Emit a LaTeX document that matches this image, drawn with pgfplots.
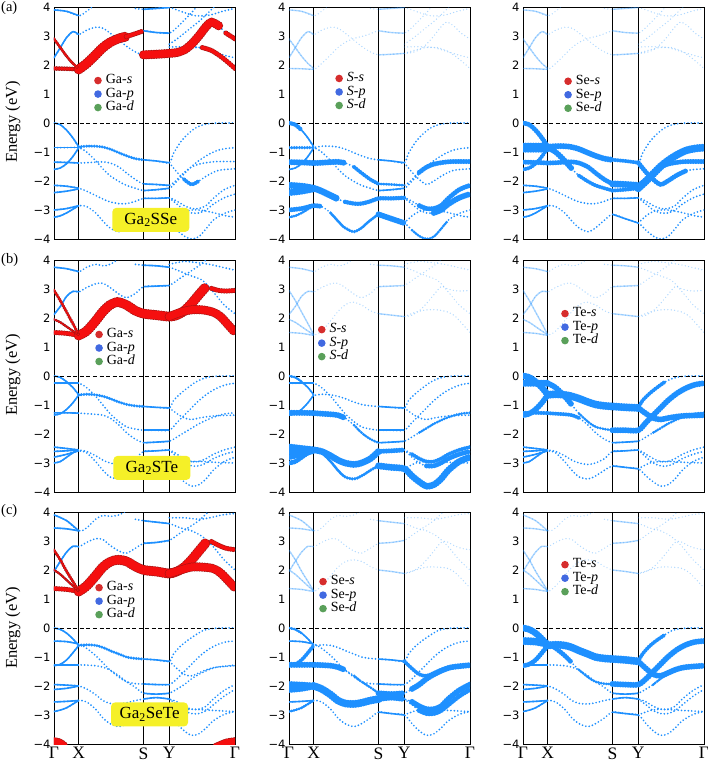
\documentclass[border=0pt]{standalone}
\usepackage{fontspec}
\setmainfont{Liberation Serif}
\setsansfont{DejaVu Sans}
\usepackage{pgfplots}
\usepackage{pgfplotstable}
\pgfplotsset{compat=1.18}
\definecolor{bb}{RGB}{30,144,255}
\definecolor{rr}{RGB}{245,15,15}
\definecolor{rdk}{RGB}{165,20,20}
\definecolor{lr}{RGB}{214,45,45}
\definecolor{lb}{RGB}{65,105,225}
\definecolor{lg}{RGB}{90,160,90}
\definecolor{yl}{RGB}{245,240,40}

% ---------------- Row A : Ga2SSe ----------------
\pgfplotstableread{
x y
0 0
0.035 -0.06
0.07 -0.25
0.105 -0.52
0.137 -0.82
0.18 -0.8
0.23 -0.8
0.27 -0.83
0.31 -0.9
0.36 -1.03
0.40 -1.13
0.45 -1.23
0.495 -1.27
0.565 -1.31
0.637 -1.37
0.66 -1.05
0.70 -0.65
0.74 -0.38
0.78 -0.18
0.82 -0.07
0.86 -0.02
0.92 0
1 0
}\aVA
\pgfplotstableread{
x y
0 -0.85
0.07 -0.85
0.137 -0.85
0.18 -1.0
0.23 -1.3
0.27 -1.58
0.31 -1.82
0.36 -2.02
0.40 -2.15
0.45 -2.25
0.495 -2.33
0.565 -2.3
0.637 -2.25
0.68 -2.0
0.72 -1.75
0.76 -1.5
0.80 -1.3
0.85 -1.1
0.90 -0.95
0.95 -0.88
1 -0.85
}\aVB
\pgfplotstableread{
x y
0 -1.6
0.035 -1.55
0.07 -1.4
0.105 -1.15
0.137 -0.85
}\aVC
\pgfplotstableread{
x y
0.637 -1.37
0.68 -1.7
0.72 -1.95
0.76 -2.12
0.80 -2.0
0.85 -1.8
0.90 -1.65
0.95 -1.6
1 -1.58
}\aVCr
\pgfplotstableread{
x y
0 -1.35
0.07 -1.36
0.137 -1.38
0.18 -1.37
0.23 -1.35
0.27 -1.34
0.31 -1.38
0.36 -1.52
0.40 -1.72
0.45 -1.95
0.495 -2.1
0.565 -2.12
0.637 -2.15
0.68 -1.95
0.72 -1.7
0.76 -1.52
0.80 -1.42
0.85 -1.36
0.90 -1.33
1 -1.33
}\aVD
\pgfplotstableread{
x y
0 -2.15
0.07 -2.18
0.137 -2.25
0.18 -2.35
0.23 -2.5
0.27 -2.62
0.31 -2.72
0.36 -2.78
0.40 -2.78
0.45 -2.7
0.495 -2.6
0.565 -2.6
0.637 -2.58
0.68 -2.7
0.72 -2.85
0.76 -2.95
0.80 -2.95
0.84 -2.85
0.88 -2.6
0.94 -2.3
1 -2.15
}\aVE
\pgfplotstableread{
x y
0 -2.4
0.07 -2.35
0.137 -2.27
}\aVF
\pgfplotstableread{
x y
0.637 -2.58
0.68 -2.8
0.72 -3.0
0.76 -3.1
0.80 -3.1
0.84 -3.0
0.88 -2.8
0.94 -2.58
1 -2.45
}\aVFr
\pgfplotstableread{
x y
0 -3.0
0.07 -2.95
0.137 -2.85
0.18 -2.88
0.23 -3.1
0.27 -3.38
0.31 -3.62
0.36 -3.75
0.40 -3.62
0.45 -3.35
0.495 -3.15
0.565 -3.3
0.637 -3.45
0.68 -3.7
0.72 -3.9
0.76 -4.0
0.80 -3.92
0.84 -3.65
0.88 -3.35
0.94 -3.12
1 -3.0
}\aVG
\pgfplotstableread{
x y
0 -3.25
0.035 -3.2
0.07 -3.1
0.105 -2.97
0.137 -2.85
}\aVH
\pgfplotstableread{
x y
0.637 -3.45
0.68 -3.2
0.72 -3.05
0.76 -3.0
0.80 -3.0
0.85 -3.05
0.90 -3.12
0.95 -3.2
1 -3.25
}\aVHr
\pgfplotstableread{
x y
0 1.88
0.07 1.87
0.137 1.85
0.18 2.05
0.23 2.35
0.27 2.6
0.31 2.78
0.36 2.92
0.40 2.98
0.45 3.08
0.495 3.18
0.565 3.12
0.637 3.1
0.68 3.3
0.72 3.55
0.76 3.8
0.80 4.1
}\aCA
\pgfplotstableread{
x y
0 2.9
0.035 2.6
0.07 2.3
0.105 2.05
0.137 1.88
}\aCB
\pgfplotstableread{
x y
0 2.25
0.035 2.6
0.07 2.95
0.105 3.15
0.137 3.05
0.18 3.2
0.23 3.3
0.27 3.27
0.31 3.1
0.36 2.85
0.40 2.65
0.45 2.45
0.495 2.35
0.565 2.37
0.637 2.4
0.68 2.43
0.72 2.52
0.76 2.72
0.80 3.0
0.84 3.32
0.87 3.48
0.91 3.35
0.95 3.1
1 2.9
}\aCC
\pgfplotstableread{
x y
0.637 2.4
0.70 2.52
0.76 2.6
0.82 2.6
0.87 2.5
0.92 2.3
0.96 2.1
1 1.88
}\aCD
\pgfplotstableread{
x y
0.637 2.62
0.72 2.63
0.80 2.6
0.88 2.45
0.95 2.32
1 2.25
}\aCE
\pgfplotstableread{
x y
0 3.9
0.07 3.85
0.137 3.7
0.18 3.85
0.23 4.1
}\aCF
\pgfplotstableread{
x y
0.45 3.95
0.495 3.92
0.565 3.95
0.637 3.98
0.70 3.85
0.78 3.7
0.86 3.72
0.93 3.85
1 3.95
}\aCG
\pgfplotstableread{
x y
0.637 2.72
0.68 2.9
0.74 3.2
0.80 3.5
0.86 3.85
0.90 4.1
}\aCH

% ---------------- Row B : Ga2STe ----------------
\pgfplotstableread{
x y
0 0
0.035 -0.05
0.07 -0.2
0.105 -0.4
0.137 -0.65
0.18 -0.63
0.23 -0.65
0.27 -0.7
0.31 -0.78
0.36 -0.9
0.40 -0.98
0.45 -1.03
0.495 -1.05
0.565 -1.08
0.637 -1.1
0.66 -0.85
0.70 -0.6
0.74 -0.4
0.78 -0.22
0.82 -0.1
0.86 -0.03
0.92 0
1 0
}\bVA
\pgfplotstableread{
x y
0 -0.25
0.07 -0.25
0.137 -0.25
0.18 -0.4
0.23 -0.7
0.27 -1.0
0.31 -1.3
0.36 -1.58
0.40 -1.75
0.45 -1.83
0.495 -1.87
0.565 -1.87
0.637 -1.87
0.68 -1.6
0.72 -1.35
0.76 -1.1
0.80 -0.85
0.85 -0.6
0.90 -0.42
0.95 -0.3
1 -0.25
}\bVB
\pgfplotstableread{
x y
0 -1.35
0.035 -1.3
0.07 -1.15
0.105 -0.92
0.137 -0.65
}\bVC
\pgfplotstableread{
x y
0.637 -1.1
0.68 -1.3
0.72 -1.45
0.76 -1.5
0.80 -1.45
0.85 -1.4
0.90 -1.37
1 -1.35
}\bVCr
\pgfplotstableread{
x y
0 -1.27
0.07 -1.27
0.137 -1.28
0.18 -1.3
0.23 -1.32
0.27 -1.35
0.31 -1.45
0.36 -1.7
0.40 -1.95
0.45 -2.18
0.495 -2.3
0.565 -2.28
0.637 -2.25
0.68 -2.1
0.72 -1.95
0.76 -1.8
0.80 -1.65
0.85 -1.5
0.90 -1.38
0.95 -1.3
1 -1.27
}\bVD
\pgfplotstableread{
x y
0 -2.45
0.07 -2.5
0.137 -2.55
0.18 -2.6
0.23 -2.75
0.27 -2.9
0.31 -3.0
0.36 -3.05
0.40 -3.0
0.45 -2.85
0.495 -2.6
0.565 -2.58
0.637 -2.55
0.68 -2.7
0.72 -2.85
0.76 -2.95
0.80 -2.95
0.84 -2.85
0.88 -2.7
0.94 -2.55
1 -2.45
}\bVE
\pgfplotstableread{
x y
0 -2.6
0.07 -2.58
0.137 -2.55
}\bVF
\pgfplotstableread{
x y
0.637 -2.55
0.68 -2.8
0.72 -3.0
0.76 -3.1
0.80 -3.1
0.84 -3.0
0.88 -2.85
0.94 -2.7
1 -2.6
}\bVFr
\pgfplotstableread{
x y
0 -2.8
0.07 -2.7
0.137 -2.58
0.18 -2.65
0.23 -2.95
0.27 -3.25
0.31 -3.48
0.36 -3.55
0.40 -3.45
0.45 -3.25
0.495 -3.1
0.565 -3.15
0.637 -3.2
0.68 -3.45
0.72 -3.65
0.76 -3.8
0.80 -3.75
0.84 -3.55
0.88 -3.25
0.94 -2.95
1 -2.8
}\bVG
\pgfplotstableread{
x y
0 -3.0
0.035 -2.95
0.07 -2.8
0.105 -2.65
0.137 -2.55
}\bVH
\pgfplotstableread{
x y
0.637 -3.2
0.70 -3.0
0.76 -2.95
0.82 -2.95
0.90 -2.98
1 -3.0
}\bVHr
\pgfplotstableread{
x y
0 1.5
0.07 1.47
0.137 1.4
0.18 1.55
0.23 1.9
0.27 2.22
0.31 2.45
0.35 2.55
0.40 2.45
0.45 2.25
0.495 2.15
0.565 2.1
0.637 2.05
0.68 2.1
0.72 2.25
0.76 2.5
0.80 2.8
0.84 3.08
0.87 3.02
0.91 2.95
0.95 2.93
1 2.95
}\bCA
\pgfplotstableread{
x y
0.637 2.05
0.70 2.2
0.76 2.28
0.82 2.28
0.88 2.2
0.92 2.05
0.96 1.78
1 1.5
}\bCB
\pgfplotstableread{
x y
0 2.95
0.035 2.6
0.07 2.2
0.105 1.8
0.137 1.42
}\bCC
\pgfplotstableread{
x y
0 1.95
0.035 1.85
0.07 1.7
0.105 1.55
0.137 1.42
}\bCD
\pgfplotstableread{
x y
0 2.12
0.035 2.4
0.07 2.75
0.105 2.92
0.137 2.9
0.18 3.05
0.23 3.18
0.27 3.2
0.31 3.05
0.36 2.82
0.40 2.7
0.45 2.85
0.495 3.08
0.565 3.1
0.637 3.12
0.68 3.3
0.74 3.55
0.80 3.8
0.85 4.05
}\bCE
\pgfplotstableread{
x y
0 3.75
0.07 3.7
0.137 3.6
0.18 3.75
0.23 3.85
0.27 3.8
0.31 3.85
0.36 4.05
}\bCF
\pgfplotstableread{
x y
0.45 3.85
0.495 3.82
0.565 3.8
0.637 3.75
0.70 3.6
0.76 3.45
0.82 3.3
0.88 2.9
0.94 2.45
1 2.15
}\bCG
\pgfplotstableread{
x y
0.637 3.85
0.72 3.95
0.80 3.9
0.86 3.85
0.93 3.75
1 3.65
}\bCH

% ---------------- Row C : Ga2SeTe ----------------
\pgfplotstableread{
x y
0 0
0.035 -0.05
0.07 -0.18
0.105 -0.38
0.137 -0.6
0.18 -0.58
0.23 -0.6
0.27 -0.67
0.31 -0.78
0.36 -0.9
0.40 -1.0
0.45 -1.05
0.495 -1.07
0.565 -1.1
0.637 -1.15
0.66 -0.9
0.70 -0.62
0.74 -0.42
0.78 -0.25
0.82 -0.1
0.86 -0.03
0.92 0
1 0
}\cVA
\pgfplotstableread{
x y
0 -0.45
0.07 -0.47
0.137 -0.55
0.18 -0.7
0.23 -0.95
0.27 -1.2
0.31 -1.45
0.36 -1.7
0.40 -1.85
0.45 -1.92
0.495 -1.93
0.565 -1.95
0.637 -1.95
0.68 -1.75
0.72 -1.5
0.76 -1.25
0.80 -1.0
0.85 -0.75
0.90 -0.58
0.95 -0.48
1 -0.45
}\cVB
\pgfplotstableread{
x y
0 -1.3
0.035 -1.25
0.07 -1.1
0.105 -0.85
0.137 -0.6
}\cVC
\pgfplotstableread{
x y
0.637 -1.15
0.68 -1.4
0.72 -1.6
0.76 -1.65
0.80 -1.55
0.85 -1.42
0.90 -1.35
1 -1.3
}\cVCr
\pgfplotstableread{
x y
0 -1.27
0.07 -1.27
0.137 -1.27
0.18 -1.28
0.23 -1.3
0.27 -1.35
0.31 -1.45
0.36 -1.65
0.40 -1.85
0.45 -2.05
0.495 -2.25
0.565 -2.28
0.637 -2.25
0.68 -2.1
0.72 -1.95
0.76 -1.75
0.80 -1.6
0.85 -1.45
0.90 -1.35
1 -1.28
}\cVD
\pgfplotstableread{
x y
0 -1.95
0.07 -1.97
0.137 -2.0
0.18 -2.1
0.23 -2.3
0.27 -2.5
0.31 -2.6
0.36 -2.62
0.40 -2.58
0.45 -2.5
0.495 -2.45
0.565 -2.4
0.637 -2.45
0.68 -2.55
0.72 -2.7
0.76 -2.8
0.80 -2.8
0.84 -2.7
0.88 -2.45
0.94 -2.15
1 -1.95
}\cVE
\pgfplotstableread{
x y
0 -2.12
0.07 -2.08
0.137 -2.0
}\cVF
\pgfplotstableread{
x y
0.637 -2.45
0.68 -2.65
0.72 -2.85
0.76 -2.95
0.80 -2.95
0.84 -2.85
0.88 -2.65
0.94 -2.35
1 -2.12
}\cVFr
\pgfplotstableread{
x y
0 -2.88
0.035 -2.83
0.07 -2.75
0.105 -2.62
0.137 -2.5
0.18 -2.55
0.23 -2.8
0.27 -3.1
0.31 -3.3
0.36 -3.4
0.40 -3.3
0.45 -3.1
0.495 -2.9
0.565 -2.95
0.637 -3.0
0.68 -3.3
0.72 -3.55
0.76 -3.7
0.80 -3.65
0.84 -3.45
0.88 -3.2
0.94 -2.98
1 -2.88
}\cVG
\pgfplotstableread{
x y
0 -2.55
0.07 -2.53
0.137 -2.5
}\cVH
\pgfplotstableread{
x y
0.637 -3.0
0.70 -2.85
0.76 -2.8
0.82 -2.82
0.90 -2.85
1 -2.88
}\cVHr
\pgfplotstableread{
x y
0 -3.92
0.03 -3.96
0.06 -4.1
}\cVR
\pgfplotstableread{
x y
0.90 -4.1
0.95 -3.97
1 -3.92
}\cVRr
\pgfplotstableread{
x y
0 1.36
0.07 1.33
0.137 1.26
0.18 1.45
0.23 1.8
0.27 2.1
0.31 2.28
0.35 2.35
0.40 2.3
0.45 2.12
0.495 2.0
0.565 1.95
0.637 1.88
0.68 1.95
0.72 2.1
0.76 2.35
0.80 2.65
0.84 2.95
0.87 2.98
0.91 2.85
0.95 2.75
1 2.7
}\cCA
\pgfplotstableread{
x y
0.637 1.88
0.70 2.0
0.76 2.1
0.82 2.1
0.88 2.05
0.92 1.9
0.96 1.65
1 1.38
}\cCB
\pgfplotstableread{
x y
0 2.68
0.035 2.35
0.07 1.95
0.105 1.6
0.137 1.27
}\cCC
\pgfplotstableread{
x y
0 2.0
0.035 1.85
0.07 1.65
0.105 1.45
0.137 1.27
}\cCD
\pgfplotstableread{
x y
0 1.95
0.035 2.3
0.07 2.62
0.105 2.82
0.137 2.8
0.18 2.95
0.23 3.08
0.27 3.05
0.31 2.85
0.36 2.65
0.40 2.58
0.45 2.75
0.495 2.92
0.565 2.95
0.637 3.02
0.68 3.2
0.74 3.45
0.80 3.7
0.86 4.05
}\cCE
\pgfplotstableread{
x y
0 3.9
0.07 3.7
0.137 3.35
0.18 3.45
0.23 3.75
0.27 3.88
0.31 3.85
0.36 3.9
0.40 4.05
}\cCF
\pgfplotstableread{
x y
0 3.45
0.07 3.42
0.137 3.35
}\cCG
\pgfplotstableread{
x y
0.45 3.75
0.495 3.7
0.565 3.65
0.637 3.6
0.70 3.45
0.76 3.35
0.82 3.15
0.88 2.8
0.94 2.35
1 2.0
}\cCH
\pgfplotstableread{
x y
0.637 3.8
0.72 3.8
0.80 3.75
0.86 3.8
0.93 3.9
1 3.95
}\cCI

\pgfplotsset{
 panel/.style={width=181pt,height=232pt,scale only axis,xmin=0,xmax=1,ymin=-4,ymax=4,
   ytick={-4,-3,-2,-1,0,1,2,3,4}, yticklabels={−4,−3,−2,−1,0,1,2,3,4},
   xtick={0,0.137,0.495,0.637,1}, xticklabels={,,,,},
   major tick length=0pt, xmajorgrids, grid style={black,line width=0.7pt},
   axis line style={black,line width=0.8pt},
   yticklabel style={font=\sffamily\fontsize{11.5}{12}\selectfont},
   xticklabel style={font=\rmfamily\fontsize{17.5}{18}\selectfont},
   legend cell align=left,
   legend image code/.code={\path[draw=none,##1] (3.8pt,0pt) circle (3.8pt);},
   legend style={draw=none,fill=none,anchor=north west,inner sep=0pt,outer sep=0pt,
      font=\fontsize{14}{14}\selectfont, column sep=3pt, row sep=0pt,
      nodes={inner sep=1pt,text height=9pt,text depth=2.5pt}},
 },
 bd/.style={forget plot,no marks,smooth,color=bb,line width=1.9pt,line cap=round,dash pattern=on 0pt off 3.4pt},
 sol/.style={forget plot,no marks,smooth,color=bb,line width=1.6pt,solid},
 fatst/.style={forget plot,no marks,smooth,line cap=round,line join=round,dash pattern=on 0pt off 2.6pt},
 faint/.style={opacity=0.35,line width=1.4pt},
}
\newcommand\bnd[2][]{%
  \addplot[bd,#1] table{#2};
  \addplot[sol,#1,restrict x to domain=-0.01:0.1375] table{#2};
  \addplot[sol,#1,restrict x to domain=0.494:0.638] table{#2};}
\newcommand\fb[3]{\addplot[fatst,color=bb,line width=#1,restrict x to domain=#3] table{#2};}
\newcommand\fr[3]{%
  \addplot[fatst,color=rdk,line width=#1+1.2pt,restrict x to domain=#3] table{#2};
  \addplot[fatst,color=rr,line width=#1,restrict x to domain=#3] table{#2};}
\newcommand\zero{\addplot[forget plot,black,line width=0.8pt,dash pattern=on 4pt off 2.5pt] coordinates {(0,0) (1,0)};}
\newcommand\aCond[1]{\bnd[#1]{\aCA}\bnd[#1]{\aCB}\bnd[#1]{\aCC}\bnd[#1]{\aCD}\bnd[#1]{\aCE}\bnd[#1]{\aCF}\bnd[#1]{\aCG}\bnd[#1]{\aCH}}
\newcommand\aVal[1]{\bnd[#1]{\aVA}\bnd[#1]{\aVB}\bnd[#1]{\aVC}\bnd[#1]{\aVCr}\bnd[#1]{\aVD}\bnd[#1]{\aVE}\bnd[#1]{\aVF}\bnd[#1]{\aVFr}\bnd[#1]{\aVG}\bnd[#1]{\aVH}\bnd[#1]{\aVHr}}
\newcommand\bCond[1]{\bnd[#1]{\bCA}\bnd[#1]{\bCB}\bnd[#1]{\bCC}\bnd[#1]{\bCD}\bnd[#1]{\bCE}\bnd[#1]{\bCF}\bnd[#1]{\bCG}\bnd[#1]{\bCH}}
\newcommand\bVal[1]{\bnd[#1]{\bVA}\bnd[#1]{\bVB}\bnd[#1]{\bVC}\bnd[#1]{\bVCr}\bnd[#1]{\bVD}\bnd[#1]{\bVE}\bnd[#1]{\bVF}\bnd[#1]{\bVFr}\bnd[#1]{\bVG}\bnd[#1]{\bVH}\bnd[#1]{\bVHr}}
\newcommand\cCond[1]{\bnd[#1]{\cCA}\bnd[#1]{\cCB}\bnd[#1]{\cCC}\bnd[#1]{\cCD}\bnd[#1]{\cCE}\bnd[#1]{\cCF}\bnd[#1]{\cCG}\bnd[#1]{\cCH}\bnd[#1]{\cCI}}
\newcommand\cVal[1]{\bnd[#1]{\cVA}\bnd[#1]{\cVB}\bnd[#1]{\cVC}\bnd[#1]{\cVCr}\bnd[#1]{\cVD}\bnd[#1]{\cVE}\bnd[#1]{\cVF}\bnd[#1]{\cVFr}\bnd[#1]{\cVG}\bnd[#1]{\cVH}\bnd[#1]{\cVHr}}
\newcommand\leg[1]{%
  \addlegendimage{fill=lr}\addlegendentry{#1-\textit{s}}
  \addlegendimage{fill=lb}\addlegendentry{#1-\textit{p}}
  \addlegendimage{fill=lg}\addlegendentry{#1-\textit{d}}}
\newcommand\ybox[3]{\node[fill=yl,rounded corners=4pt,minimum width=77pt,minimum height=24pt,inner sep=0pt,font=\fontsize{17}{17}\selectfont] at (axis cs:#1,#2) {#3};}

\begin{document}
\begin{tikzpicture}
\path[use as bounding box] (0,0) rectangle (708pt,-766pt);
% ===== Row A =====
\begin{axis}[panel,at={(54pt,-7pt)},anchor=north west,legend style={at={(0.222,0.712)}}]
\leg{Ga}
\aCond{}\aVal{}
\zero
\fb{3.2pt}{\aVA}{0.137:0.50}
\fb{4pt}{\aVCr}{0.70:0.82}
\fr{3.5pt}{\aCA}{-0.01:0.14}
\fr{9pt}{\aCA}{0.137:0.40}
\fr{4pt}{\aCA}{0.40:0.50}
\fr{2.5pt}{\aCB}{-0.01:0.14}
\fr{8pt}{\aCC}{0.494:0.93}
\fr{4pt}{\aCC}{0.93:1.01}
\fr{4pt}{\aCD}{0.78:1.01}
\ybox{0.535}{-3.34}{Ga\textsubscript{2}SSe}
\end{axis}
\begin{axis}[panel,at={(289pt,-7pt)},anchor=north west,legend style={at={(0.256,0.721)}}]
\leg{\textit{S}}
\aCond{faint}\aVal{}
\zero
\fb{4.5pt}{\aVA}{-0.01:0.09}
\fb{3.5pt}{\aVB}{-0.01:0.14}
\fb{6pt}{\aVD}{-0.01:0.33}
\fb{4pt}{\aVD}{0.33:0.50}
\fb{3pt}{\aVD}{0.494:0.64}
\fb{5pt}{\aVD}{0.72:1.01}
\fb{7pt}{\aVE}{-0.01:0.30}
\fb{4.5pt}{\aVE}{0.30:0.64}
\fb{5pt}{\aVE}{0.70:1.01}
\fb{7pt}{\aVF}{-0.01:0.14}
\fb{6pt}{\aVFr}{0.78:1.01}
\fb{5pt}{\aVG}{-0.01:0.20}
\fb{3.5pt}{\aVG}{0.20:0.50}
\fb{6pt}{\aVG}{0.494:0.64}
\fb{3pt}{\aVG}{0.64:0.90}
\fb{3pt}{\aVH}{-0.01:0.14}
\end{axis}
\begin{axis}[panel,at={(523pt,-7pt)},anchor=north west,legend style={at={(0.228,0.709)}}]
\leg{Se}
\aCond{faint}\aVal{}
\zero
\fb{5pt}{\aVA}{-0.01:0.14}
\fb{10pt}{\aVB}{-0.01:0.14}
\fb{4pt}{\aVC}{-0.01:0.14}
\fb{5pt}{\aVD}{-0.01:0.14}
\fb{6pt}{\aVA}{0.137:0.50}
\fb{6pt}{\aVB}{0.137:0.30}
\fb{4pt}{\aVB}{0.30:0.50}
\fb{5pt}{\aVD}{0.137:0.50}
\fb{4pt}{\aVA}{0.494:0.64}
\fb{7pt}{\aVD}{0.494:0.64}
\fb{4pt}{\aVB}{0.494:0.64}
\fb{8pt}{\aVB}{0.637:1.01}
\fb{5pt}{\aVD}{0.637:1.01}
\fb{5pt}{\aVCr}{0.637:0.90}
\end{axis}
% ===== Row B =====
\begin{axis}[panel,at={(54pt,-260pt)},anchor=north west,legend style={at={(0.228,0.708)}}]
\leg{Ga}
\bCond{}\bVal{}
\zero
\fb{3.2pt}{\bVA}{0.137:0.50}
\fr{4pt}{\bCA}{-0.01:0.14}
\fr{9pt}{\bCA}{0.137:0.85}
\fr{4pt}{\bCA}{0.85:1.01}
\fr{8pt}{\bCB}{0.637:1.01}
\fr{2.5pt}{\bCC}{-0.01:0.14}
\fr{2pt}{\bCD}{-0.01:0.14}
\ybox{0.541}{-3.17}{Ga\textsubscript{2}STe}
\end{axis}
\begin{axis}[panel,at={(289pt,-260pt)},anchor=north west,legend style={at={(0.16,0.729)}}]
\leg{\textit{S}}
\bCond{faint}\bVal{}
\zero
\fb{3pt}{\bVA}{-0.01:0.09}
\fb{6pt}{\bVD}{-0.01:0.33}
\fb{3pt}{\bVD}{0.33:0.50}
\fb{7pt}{\bVE}{-0.01:0.50}
\fb{7pt}{\bVF}{-0.01:0.14}
\fb{6pt}{\bVG}{-0.01:0.14}
\fb{5pt}{\bVH}{-0.01:0.14}
\fb{3.5pt}{\bVG}{0.137:0.50}
\fb{5pt}{\bVE}{0.494:0.64}
\fb{7pt}{\bVG}{0.494:1.01}
\fb{5pt}{\bVFr}{0.75:1.01}
\fb{4pt}{\bVE}{0.64:1.01}
\fb{3pt}{\bVD}{0.70:1.01}
\end{axis}
\begin{axis}[panel,at={(523pt,-260pt)},anchor=north west,legend style={at={(0.211,0.798)}}]
\leg{Te}
\bCond{faint}\bVal{}
\zero
\fb{7pt}{\bVA}{-0.01:0.14}
\fb{7pt}{\bVB}{-0.01:0.14}
\fb{6pt}{\bVC}{-0.01:0.14}
\fb{4pt}{\bVD}{-0.01:0.14}
\fb{8pt}{\bVA}{0.137:0.64}
\fb{6pt}{\bVB}{0.137:0.28}
\fb{3pt}{\bVB}{0.28:0.50}
\fb{6pt}{\bVB}{0.494:1.01}
\fb{4pt}{\bVA}{0.637:0.80}
\fb{6pt}{\bVCr}{0.637:1.01}
\fb{4pt}{\bVD}{0.137:0.35}
\fb{3pt}{\bVD}{0.70:1.01}
\end{axis}
% ===== Row C =====
\begin{axis}[panel,at={(54pt,-512pt)},anchor=north west,legend style={at={(0.228,0.703)}},
  xticklabels={Γ,X,S,Y,Γ}]
\leg{Ga}
\cCond{}\cVal{}
\zero
\fb{3.2pt}{\cVA}{0.137:0.50}
\fr{4pt}{\cCA}{-0.01:0.14}
\fr{9pt}{\cCA}{0.137:0.85}
\fr{4pt}{\cCA}{0.85:1.01}
\fr{8pt}{\cCB}{0.637:1.01}
\fr{2.5pt}{\cCC}{-0.01:0.14}
\fr{2pt}{\cCD}{-0.01:0.14}
\fr{8pt}{\cVR}{-0.01:0.1}
\fr{8pt}{\cVRr}{0.85:1.01}
\ybox{0.528}{-2.98}{Ga\textsubscript{2}SeTe}
\end{axis}
\begin{axis}[panel,at={(289pt,-512pt)},anchor=north west,legend style={at={(0.167,0.729)}},
  xticklabels={Γ,X,S,Y,Γ}]
\leg{Se}
\cCond{faint}\cVal{}
\zero
\fb{3pt}{\cVA}{-0.01:0.09}
\fb{6pt}{\cVD}{-0.01:0.33}
\fb{4pt}{\cVC}{-0.01:0.14}
\fb{7pt}{\cVE}{-0.01:0.14}
\fb{7pt}{\cVF}{-0.01:0.14}
\fb{3pt}{\cVG}{-0.01:0.14}
\fb{3pt}{\cVD}{0.33:0.50}
\fb{8pt}{\cVE}{0.137:0.50}
\fb{6pt}{\cVD}{0.494:0.64}
\fb{6pt}{\cVE}{0.494:0.64}
\fb{6pt}{\cVD}{0.64:1.01}
\fb{6pt}{\cVE}{0.64:1.01}
\fb{5pt}{\cVFr}{0.70:1.01}
\fb{4pt}{\cVCr}{0.637:1.01}
\end{axis}
\begin{axis}[panel,at={(523pt,-512pt)},anchor=north west,legend style={at={(0.211,0.802)}},
  xticklabels={Γ,X,S,Y,Γ}]
\leg{Te}
\cCond{faint}\cVal{}
\zero
\fb{7pt}{\cVA}{-0.01:0.14}
\fb{8pt}{\cVB}{-0.01:0.14}
\fb{5pt}{\cVC}{-0.01:0.14}
\fb{8pt}{\cVA}{0.137:0.64}
\fb{5pt}{\cVB}{0.137:0.30}
\fb{3pt}{\cVB}{0.30:0.50}
\fb{6pt}{\cVB}{0.494:1.01}
\fb{4pt}{\cVA}{0.637:0.80}
\fb{6pt}{\cVCr}{0.637:1.01}
\fb{3pt}{\cVD}{0.70:1.01}
\end{axis}
% ===== labels =====
\node[anchor=north west,inner sep=0pt,font=\fontsize{14.5}{15}\selectfont] at (1pt,-1pt) {(a)};
\node[anchor=north west,inner sep=0pt,font=\fontsize{14.5}{15}\selectfont] at (1pt,-253pt) {(b)};
\node[anchor=north west,inner sep=0pt,font=\fontsize{14.5}{15}\selectfont] at (1pt,-504pt) {(c)};
\node[rotate=90,font=\fontsize{16.5}{17}\selectfont] at (13pt,-122pt) {Energy (eV)};
\node[rotate=90,font=\fontsize{16.5}{17}\selectfont] at (13pt,-375pt) {Energy (eV)};
\node[rotate=90,font=\fontsize{16.5}{17}\selectfont] at (13pt,-628pt) {Energy (eV)};
\end{tikzpicture}
\end{document}
